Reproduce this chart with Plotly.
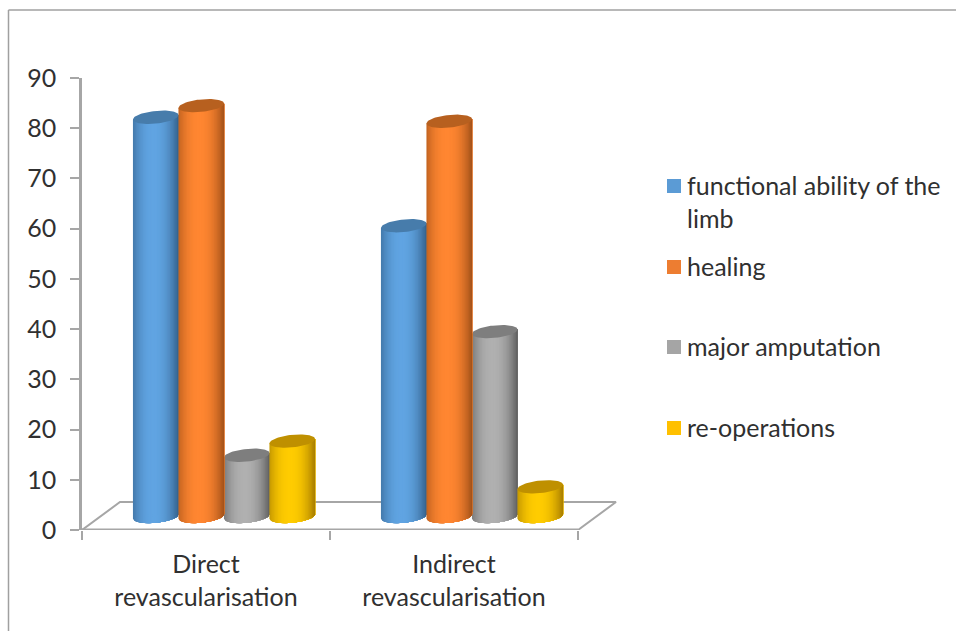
import numpy as np
import plotly.graph_objects as go

categories = ["Direct<br>revascularisation", "Indirect<br>revascularisation"]
series_names = ["functional ability of the<br>limb", "healing", "major amputation", "re-operations"]
functional_ability = [79.5, 57.9]
healing = [81.8, 78.7]
major_amputation = [12.2, 36.8]
re_operations = [15, 5.9]
y_ticks = [0, 10, 20, 30, 40, 50, 60, 70, 80, 90]

series_values = [functional_ability, healing, major_amputation, re_operations]
body_dark = ["#33608a", "#a05018", "#5e5e5e", "#a57b00"]
body_light = ["#60a4e2", "#ff8631", "#b0b0b0", "#ffcc00"]
cap_colors = ["#477cab", "#b7601f", "#7e7e7e", "#bf9000"]
swatch_colors = ["#5b9bd5", "#ed7d31", "#a5a5a5", "#ffc000"]
draw_order = [0, 2, 1, 3]

AXIS_GRAY = "#a6a6a6"
TEXT = "#303030"
FONT = "Lato"

# Pixel frame: the axis box is wider than the category span so the floor's depth fits
W, H = 956, 631
L, R_CAT, R, T, B = 82, 578, 640, 78, 530
px_per_x = (R_CAT - L) / 2
px_per_y = (B - T) / 90
X_MAX = -0.5 + (R - L) / px_per_x


def xpx(dx):
    return dx / px_per_x


def ypx(dy):
    return dy / px_per_y


def paper_x(px):
    return (px - L) / (R - L)


def paper_y(py):
    return (B - py) / (B - T)


fig = go.Figure()

# Floor of the 3D box
DEPTH_X, DEPTH_Y = xpx(38), ypx(28)
fig.add_trace(go.Scatter(
    x=[-0.5, -0.5 + DEPTH_X, 1.5 + DEPTH_X, 1.5],
    y=[0, DEPTH_Y, DEPTH_Y, 0],
    mode="lines", line=dict(color=AXIS_GRAY, width=2),
    cliponaxis=False, hoverinfo="skip", showlegend=False))
fig.add_trace(go.Scatter(
    x=[-0.5, 1.5], y=[0, 0],
    mode="lines", line=dict(color=AXIS_GRAY, width=3),
    cliponaxis=False, hoverinfo="skip", showlegend=False))

# Cylinder geometry
HALF = xpx(22.8)
STEP = xpx(45.5)
SHIFT_X = xpx(18)
FLOOR_Y = ypx(13.5)
RY = ypx(6.3)
TILT = ypx(2.2)
BANDS = 32


def hex_rgb(c):
    return np.array([int(c[i:i + 2], 16) for i in (1, 3, 5)], dtype=float)


def shade(dark, light, t):
    # t runs -1..1 across the cylinder; the highlight sits slightly left of centre
    u = np.clip(abs(t + 0.1) / 1.1, 0, 1)
    k = 1 - u ** 2.2
    rgb = hex_rgb(dark) * (1 - k) + hex_rgb(light) * k
    return "rgb({:.0f},{:.0f},{:.0f})".format(*rgb)


def front_arc(t, centre):
    return centre - RY * np.sqrt(np.clip(1 - t ** 2, 0, 1)) + TILT * t


def add_cylinder(cx, value, s):
    base = FLOOR_Y
    top = FLOOR_Y + value
    edges = np.linspace(-1, 1, BANDS + 1)
    for i in range(BANDS):
        # each band runs to the right rim so neighbouring fills leave no seams
        t = np.linspace(edges[i], 1, max(2, BANDS - i + 1))
        xs = cx + HALF * t
        bottom = front_arc(t, base)
        upper = top + TILT * t
        fig.add_trace(go.Scatter(
            x=np.concatenate([xs, xs[::-1]]),
            y=np.concatenate([bottom, upper[::-1]]),
            mode="lines", line=dict(width=0), fill="toself",
            fillcolor=shade(body_dark[s], body_light[s], (edges[i] + edges[i + 1]) / 2),
            cliponaxis=False, hoverinfo="skip", showlegend=False))
    a = np.linspace(0, 2 * np.pi, 80)
    ct = np.cos(a)
    fig.add_trace(go.Scatter(
        x=cx + HALF * ct,
        y=top + RY * np.sin(a) + TILT * ct,
        mode="lines", line=dict(width=0), fill="toself",
        fillcolor=cap_colors[s],
        cliponaxis=False, hoverinfo="skip", showlegend=False))


for g in range(len(categories)):
    for s in draw_order:
        add_cylinder(g + SHIFT_X + (s - 1.5) * STEP, series_values[s][g], s)

shapes = [
    dict(type="line", xref="paper", yref="paper",
         x0=paper_x(8.5), x1=paper_x(956), y0=paper_y(10), y1=paper_y(10),
         line=dict(color="#a0a0a0", width=1.5)),
    dict(type="line", xref="paper", yref="paper",
         x0=paper_x(8.5), x1=paper_x(8.5), y0=paper_y(10), y1=paper_y(631),
         line=dict(color="#a0a0a0", width=1.5)),
]

annotations = []
swatch_mid = [186, 267, 347, 428]
for name, color, mid in zip(series_names, swatch_colors, swatch_mid):
    shapes.append(dict(type="rect", xref="paper", yref="paper",
                       x0=paper_x(667), x1=paper_x(681),
                       y0=paper_y(mid - 7), y1=paper_y(mid + 7),
                       fillcolor=color, line=dict(width=0)))
    annotations.append(dict(
        xref="paper", yref="paper", x=paper_x(687), y=paper_y(mid - 16),
        xanchor="left", yanchor="top", align="left", text=name, showarrow=False,
        font=dict(family=FONT, size=25, color=TEXT), borderpad=0, borderwidth=0))

fig.update_layout(
    width=W, height=H, autosize=False,
    margin=dict(l=L, r=W - R, t=T, b=H - B),
    plot_bgcolor="white", paper_bgcolor="white",
    showlegend=False, shapes=shapes, annotations=annotations,
    font=dict(family=FONT, size=25, color=TEXT),
    xaxis=dict(
        range=[-0.5, X_MAX], tickmode="array", tickvals=[0, 1], ticktext=categories,
        ticks="", showgrid=False, zeroline=False, showline=False,
        ticklabelstandoff=17,
        minor=dict(tickmode="array", tickvals=[-0.5, 0.5, 1.5], ticks="outside",
                   ticklen=9, tickwidth=1.5, tickcolor=AXIS_GRAY, showgrid=False),
        tickfont=dict(family=FONT, size=25, color=TEXT)),
    yaxis=dict(
        range=[0, 90], tickmode="array", tickvals=y_ticks,
        ticks="outside", ticklen=9, tickwidth=1.5, tickcolor=AXIS_GRAY,
        showline=True, linecolor=AXIS_GRAY, linewidth=2.5,
        showgrid=False, zeroline=False, ticklabelstandoff=9,
        tickfont=dict(family=FONT, size=25, color=TEXT)),
)

fig.write_html("out.html")
